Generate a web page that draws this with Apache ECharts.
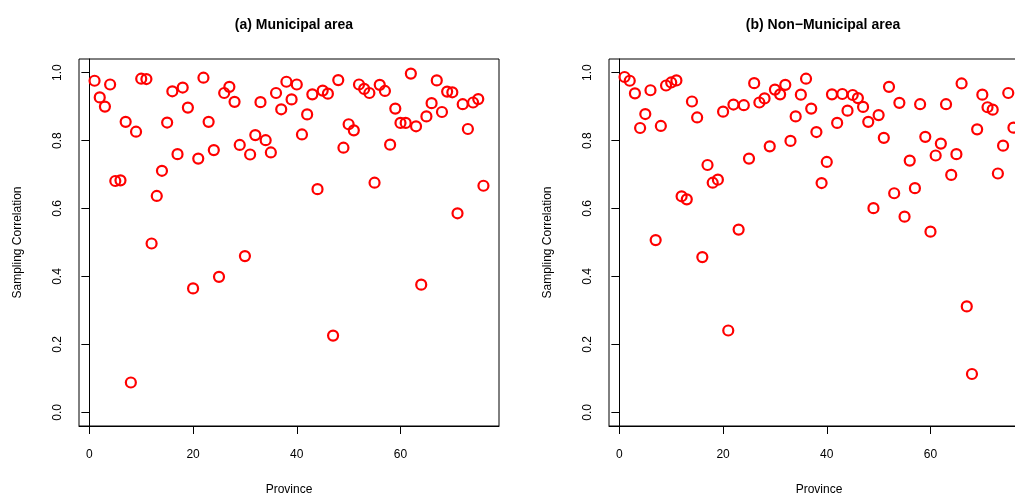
<!DOCTYPE html>
<html>
<head>
<meta charset="utf-8">
<title>Sampling Correlation by Province</title>
<script src="https://cdn.jsdelivr.net/npm/echarts@6/dist/echarts.min.js"></script>
<style>
  html, body { margin: 0; padding: 0; background: #fff; }
  #main { width: 1015px; height: 494px; }
</style>
</head>
<body>
<div id="main"></div>
<script>
// panel titles
var titles = ['(a) Municipal area', '(b) Non\u2212Municipal area'];

// sampling correlation per province (1..76)
var municipal = [
  0.976, 0.927, 0.900, 0.965, 0.681, 0.683, 0.855, 0.088, 0.826, 0.982,
  0.981, 0.497, 0.637, 0.711, 0.853, 0.945, 0.760, 0.956, 0.897, 0.365,
  0.747, 0.985, 0.855, 0.772, 0.399, 0.940, 0.958, 0.914, 0.787, 0.460,
  0.759, 0.816, 0.913, 0.801, 0.765, 0.940, 0.892, 0.973, 0.921, 0.965,
  0.818, 0.877, 0.936, 0.657, 0.947, 0.938, 0.226, 0.978, 0.779, 0.848,
  0.830, 0.965, 0.952, 0.940, 0.676, 0.964, 0.946, 0.788, 0.894, 0.852,
  0.852, 0.997, 0.842, 0.376, 0.871, 0.910, 0.977, 0.884, 0.944, 0.942,
  0.586, 0.907, 0.834, 0.912, 0.922, 0.667
];
var nonMunicipal = [
  0.987, 0.976, 0.939, 0.837, 0.878, 0.948, 0.507, 0.843, 0.962, 0.971,
  0.977, 0.636, 0.627, 0.915, 0.868, 0.457, 0.728, 0.676, 0.685, 0.885,
  0.241, 0.906, 0.538, 0.904, 0.747, 0.969, 0.912, 0.924, 0.783, 0.950,
  0.936, 0.964, 0.799, 0.871, 0.935, 0.982, 0.894, 0.825, 0.675, 0.737,
  0.936, 0.852, 0.937, 0.888, 0.934, 0.925, 0.899, 0.855, 0.601, 0.875,
  0.808, 0.958, 0.645, 0.911, 0.576, 0.741, 0.660, 0.907, 0.811, 0.532,
  0.756, 0.791, 0.907, 0.699, 0.760, 0.968, 0.312, 0.113, 0.833, 0.935,
  0.898, 0.891, 0.703, 0.785, 0.940, 0.838
];

// tick labels
var xTicks = [0, 20, 40, 60];
var yTicks = [0, 0.2, 0.4, 0.6, 0.8, 1.0];

var font = 'Liberation Sans, Arial, Helvetica, sans-serif';

function toPoints(vals) {
  return vals.map(function (v, i) { return [i + 1, v]; });
}

function xAxisFor(idx) {
  return {
    gridIndex: idx,
    type: 'value',
    min: -2,
    max: 79,
    name: 'Province',
    nameLocation: 'middle',
    nameGap: 58,
    nameTextStyle: { fontFamily: font, fontSize: 12, color: '#000' },
    axisLine: { show: true, onZero: false, lineStyle: { color: '#000', width: 1 } },
    axisTick: { show: true, length: 8, inside: false, customValues: xTicks, lineStyle: { color: '#000' } },
    axisLabel: { customValues: xTicks, margin: 23, fontFamily: font, fontSize: 12, color: '#000' },
    splitLine: { show: false }
  };
}

function yAxisFor(idx) {
  return {
    gridIndex: idx,
    type: 'value',
    min: -0.04,
    max: 1.04,
    name: 'Sampling Correlation',
    nameLocation: 'middle',
    nameGap: 55,
    nameTextStyle: { fontFamily: font, fontSize: 12, color: '#000' },
    axisLine: { show: true, lineStyle: { color: '#000', width: 1 } },
    axisTick: { show: true, length: 8, inside: false, customValues: yTicks, lineStyle: { color: '#000' } },
    axisLabel: {
      customValues: yTicks,
      rotate: 90,
      margin: 15,
      fontFamily: font,
      fontSize: 12,
      color: '#000',
      formatter: function (v) { return Number(v).toFixed(1); }
    },
    splitLine: { show: false }
  };
}

function seriesFor(idx, vals) {
  return {
    type: 'scatter',
    xAxisIndex: idx,
    yAxisIndex: idx,
    data: toPoints(vals),
    symbol: 'circle',
    symbolSize: 10,
    itemStyle: { color: 'rgba(0,0,0,0)', borderColor: '#ff0000', borderWidth: 2.2, opacity: 1 },
    emphasis: { disabled: true },
    silent: true
  };
}

var myChart = echarts.init(document.getElementById('main'), null, { renderer: 'canvas' });

var option = {
  animation: false,
  backgroundColor: '#fff',
  title: [
    {
      text: titles[0], left: 289, top: 13, textAlign: 'center',
      textStyle: { fontFamily: font, fontSize: 14, fontWeight: 'bold', color: '#000' }
    },
    {
      text: titles[1], left: 818, top: 13, textAlign: 'center',
      textStyle: { fontFamily: font, fontSize: 14, fontWeight: 'bold', color: '#000' }
    }
  ],
  grid: [
    { left: 79, top: 59, width: 420, height: 367, show: true, borderColor: '#000', borderWidth: 1, backgroundColor: 'transparent', containLabel: false, outerBoundsMode: 'none' },
    { left: 609, top: 59, width: 420, height: 367, show: true, borderColor: '#000', borderWidth: 1, backgroundColor: 'transparent', containLabel: false, outerBoundsMode: 'none' }
  ],
  xAxis: [xAxisFor(0), xAxisFor(1)],
  yAxis: [yAxisFor(0), yAxisFor(1)],
  series: [seriesFor(0, municipal), seriesFor(1, nonMunicipal)]
};

myChart.setOption(option);
</script>
</body>
</html>
